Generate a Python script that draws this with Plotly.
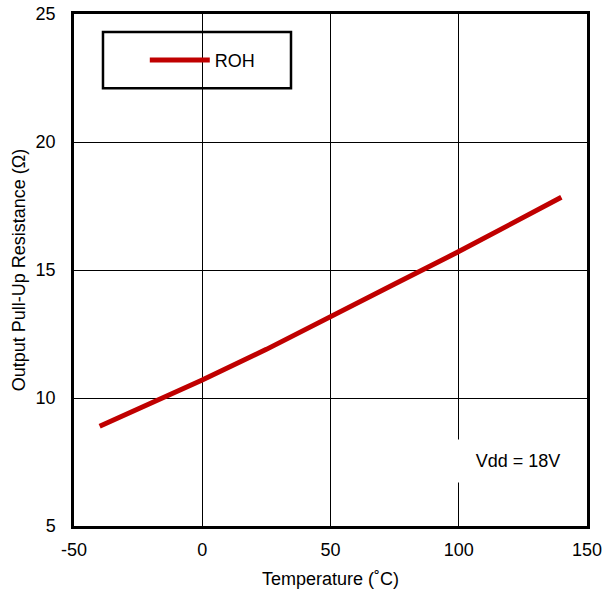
import plotly.graph_objects as go

temperature = [-40, 0, 25, 50, 75, 100, 120, 140]
roh = [8.9, 10.7, 11.9, 13.2, 14.45, 15.72, 16.78, 17.84]

x_ticks = [-50, 0, 50, 100, 150]
x_tick_text = ["-50", "0", "50", "100", "150"]
y_ticks = [5, 10, 15, 20, 25]

font_family = "Liberation Sans, Arial, sans-serif"

fig = go.Figure()
fig.add_trace(go.Scatter(
    x=temperature, y=roh, mode="lines", name="ROH",
    line=dict(color="#C00000", width=5),
))

fig.add_annotation(
    x=123, y=7.55, xref="x", yref="y", text="Vdd = 18V", showarrow=False,
    font=dict(family=font_family, size=18, color="black"),
    bgcolor="white", borderpad=10, width=104, height=22,
)

# legend frame
fig.add_shape(type="rect", xref="paper", yref="paper",
              x0=0.0565, x1=0.423, y0=0.855, y1=0.965,
              line=dict(color="black", width=2.5), fillcolor="white", layer="below")

fig.update_layout(
    width=605, height=595,
    margin=dict(l=74, r=18, t=14, b=69, autoexpand=False),
    paper_bgcolor="white", plot_bgcolor="white",
    font=dict(family=font_family, size=18, color="black"),
    showlegend=True,
    legend=dict(
        x=0.138, y=0.9455, xanchor="left", yanchor="top",
        borderwidth=0, bgcolor="rgba(0,0,0,0)",
        font=dict(family=font_family, size=18),
        itemwidth=60,
    ),
    xaxis=dict(
        range=[-50, 150], tickvals=x_ticks, ticktext=x_tick_text,
        showgrid=True, gridcolor="black", gridwidth=1,
        showline=True, linecolor="black", linewidth=2.5, mirror=True, zeroline=False,
        ticks="", ticklabelstandoff=6, automargin=False,
        title=dict(text="Temperature (˚C)", font=dict(size=18), standoff=14),
    ),
    yaxis=dict(
        range=[5, 25], tickvals=y_ticks, showgrid=True, gridcolor="black", gridwidth=1,
        showline=True, linecolor="black", linewidth=2.5, mirror=True, zeroline=False,
        ticks="", ticklabelstandoff=12, automargin=False,
        title=dict(text="Output Pull-Up Resistance (Ω)", font=dict(size=18), standoff=6),
    ),
)

fig.write_html(
    "out.html",
    config={"displayModeBar": False},
    post_script="document.body.style.margin='0';document.body.style.overflow='hidden';",
)
